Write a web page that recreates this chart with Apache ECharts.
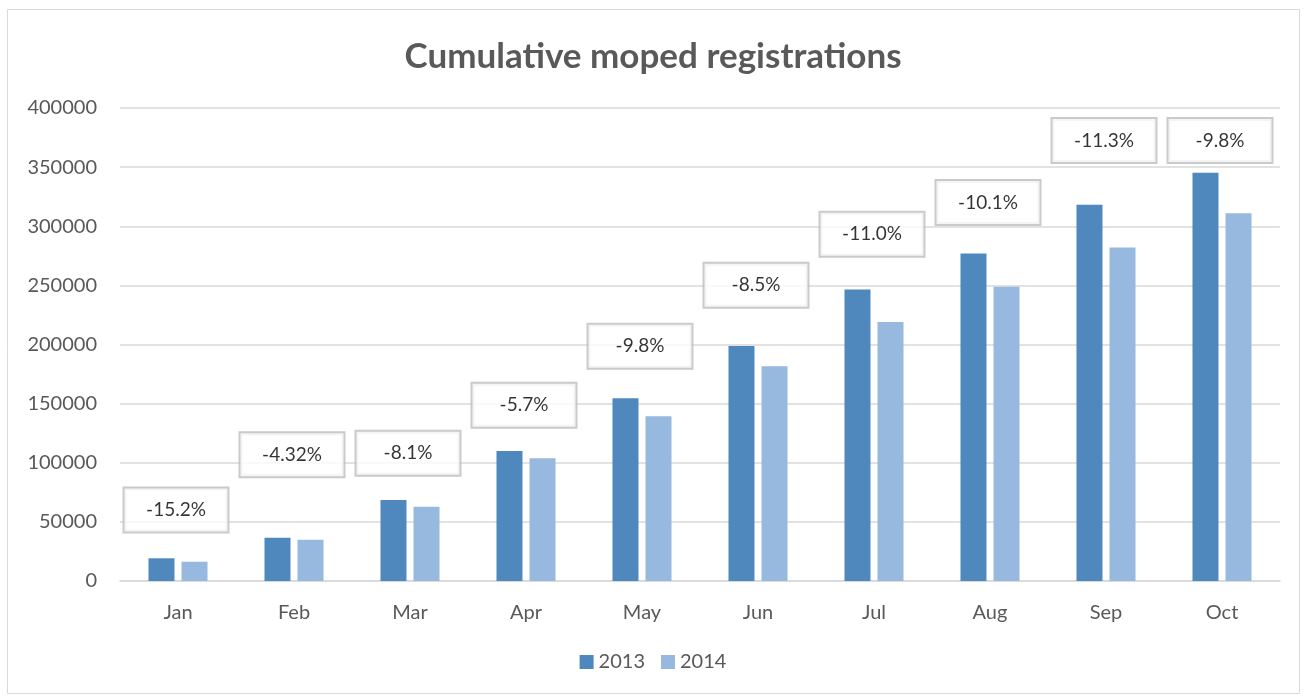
<!DOCTYPE html>
<html>
<head>
<meta charset="utf-8">
<script src="https://cdn.jsdelivr.net/npm/echarts@6/dist/echarts.min.js"></script>
<style>
  html, body { margin: 0; padding: 0; background: #fff; }
  #main { width: 1306px; height: 697px; }
</style>
</head>
<body>
<div id="main"></div>
<script>
// months on the x axis
var months = ['Jan', 'Feb', 'Mar', 'Apr', 'May', 'Jun', 'Jul', 'Aug', 'Sep', 'Oct']
// cumulative registrations per year
var reg2013 = [19200, 36600, 68400, 110000, 154600, 198700, 246600, 277000, 318100, 345200]
var reg2014 = [16300, 34900, 62800, 103700, 139400, 181600, 219000, 248900, 282100, 311000]
// year on year change, shown in the callout boxes
var changeLabels = ['-15.2%', '-4.32%', '-8.1%', '-5.7%', '-9.8%', '-8.5%', '-11.0%', '-10.1%', '-11.3%', '-9.8%']
// where each callout box sits (value units)
var calloutAt = [60000, 106800, 108000, 148600, 198500, 250200, 293200, 320000, 372500, 372500]

var font = 'Lato, "Open Sans", sans-serif'
var chart = echarts.init(document.getElementById('main'))

var option = {
  animation: false,
  textStyle: { fontFamily: font },
  title: {
    text: 'Cumulative moped registrations',
    left: 'center',
    top: 34,
    textStyle: { fontSize: 35, fontWeight: 'bold', color: '#595959', fontFamily: font }
  },
  graphic: [
    {
      type: 'rect',
      shape: { x: 7.5, y: 9.5, width: 1292, height: 684 },
      style: { fill: 'none', stroke: '#d9d9d9', lineWidth: 1 },
      silent: true
    }
  ],
  legend: {
    bottom: 20,
    left: 'center',
    itemWidth: 14,
    itemHeight: 14,
    itemGap: 16,
    icon: 'rect',
    data: ['2013', '2014'],
    textStyle: { fontSize: 20, color: '#595959', fontFamily: font }
  },
  grid: { left: 120, right: 26, top: 108, bottom: 116, containLabel: false },
  xAxis: {
    type: 'category',
    data: months,
    axisLine: { lineStyle: { color: '#d9d9d9', width: 1.5 } },
    axisTick: { show: false },
    axisLabel: { fontSize: 20, color: '#595959', margin: 22, fontFamily: font }
  },
  yAxis: {
    type: 'value',
    min: 0,
    max: 400000,
    interval: 50000,
    axisLine: { show: false },
    axisTick: { show: false },
    splitLine: { lineStyle: { color: '#d9d9d9', width: 1.5 } },
    axisLabel: {
      fontSize: 20,
      color: '#595959',
      margin: 23,
      fontFamily: font,
      formatter: function (v) { return String(v) }
    }
  },
  series: [
    {
      name: '2013',
      type: 'bar',
      data: reg2013,
      barWidth: 26,
      barGap: '27%',
      itemStyle: { color: '#4e88bc' }
    },
    {
      name: '2014',
      type: 'bar',
      data: reg2014,
      barWidth: 26,
      itemStyle: { color: '#98b9df' }
    },
    {
      name: 'change',
      type: 'scatter',
      data: calloutAt,
      symbol: 'circle',
      symbolSize: 1,
      itemStyle: { color: 'rgba(0,0,0,0)' },
      z: 5,
      silent: true,
      label: {
        show: true,
        position: 'inside',
        offset: [-2, 0],
        formatter: function (p) { return changeLabels[p.dataIndex] },
        fontSize: 19,
        color: '#000',
        fontFamily: font,
        backgroundColor: '#fff',
        borderColor: '#bdbdbd',
        borderWidth: 2,
        width: 103,
        height: 43,
        lineHeight: 43,
        align: 'center',
        verticalAlign: 'middle'
      }
    }
  ]
}
chart.setOption(option)
</script>
</body>
</html>
